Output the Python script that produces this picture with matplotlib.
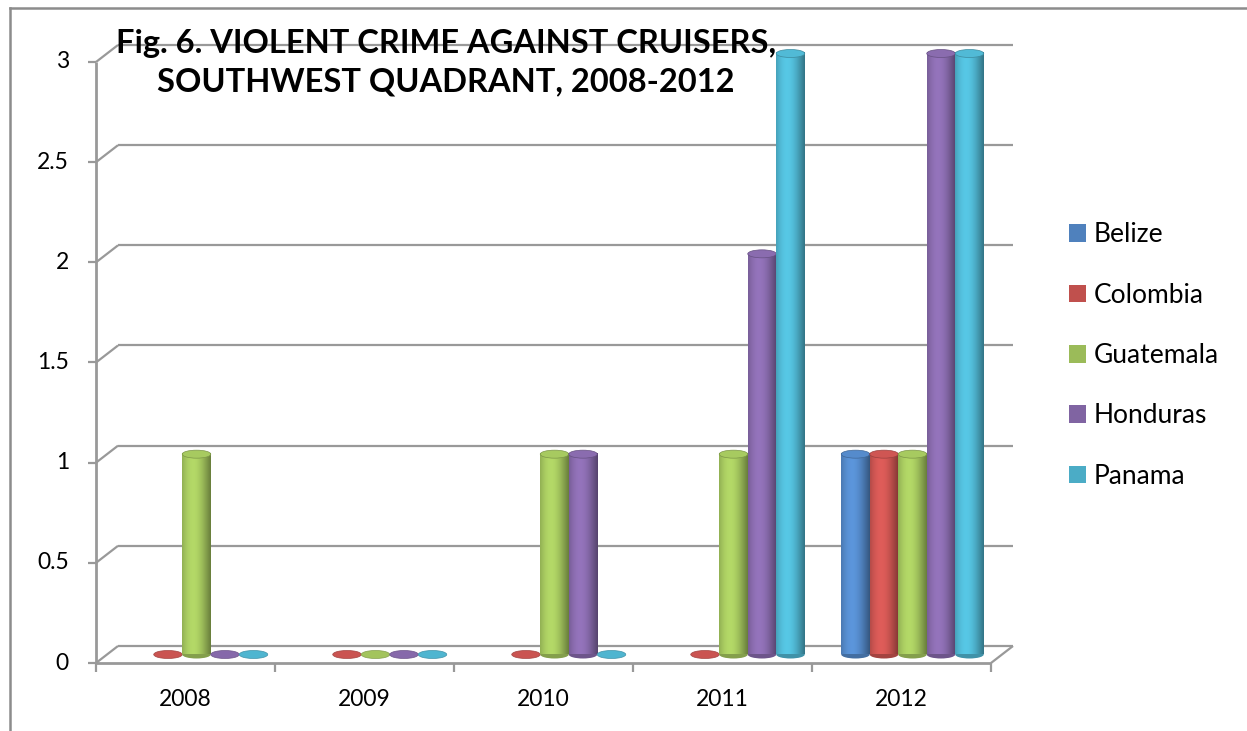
import matplotlib

matplotlib.use("Agg")
import matplotlib.pyplot as plt
import numpy as np
from matplotlib.patches import Ellipse, Patch

years = ["2008", "2009", "2010", "2011", "2012"]
countries = ["Belize", "Colombia", "Guatemala", "Honduras", "Panama"]
belize = [np.nan, np.nan, np.nan, np.nan, 1]
colombia = [0, 0, 0, 0, 1]
guatemala = [1, 0, 1, 1, 1]
honduras = [0, 0, 1, 2, 3]
panama = [0, 0, 0, 3, 3]
y_ticks = [0, 0.5, 1, 1.5, 2, 2.5, 3]
y_tick_labels = ["0", "0.5", "1", "1.5", "2", "2.5", "3"]
title = "Fig. 6. VIOLENT CRIME AGAINST CRUISERS,\nSOUTHWEST QUADRANT, 2008-2012"

series = [belize, colombia, guatemala, honduras, panama]
colors = ["#4F81BD", "#C0504D", "#9BBB59", "#8064A2", "#4BACC6"]
grid_color = "#999999"
font = "Lato"

W, H, DPI = 1247, 731, 100
# front plot rectangle in pixels and the depth offset of the back wall
FRONT_L, FRONT_R, FRONT_T, FRONT_B = 96, 991, 62, 663
DEPTH_PX = (22, 17)

fig = plt.figure(figsize=(W / DPI, H / DPI), dpi=DPI)
ax = fig.add_axes([
    FRONT_L / W,
    (H - FRONT_B) / H,
    (FRONT_R - FRONT_L) / W,
    (FRONT_B - FRONT_T) / H,
])
n_cat = len(years)
y_max = y_ticks[-1]
ax.set_xlim(0, n_cat)
ax.set_ylim(0, y_max)
ax.set_axis_off()

px_x = (FRONT_R - FRONT_L) / n_cat
px_y = (FRONT_B - FRONT_T) / y_max
DX = DEPTH_PX[0] / px_x
DY = DEPTH_PX[1] / px_y


def line(xs, ys, **kw):
    style = dict(color=grid_color, lw=1.6, clip_on=False, solid_capstyle="butt", zorder=1)
    style.update(kw)
    ax.plot(xs, ys, **style)


# back wall gridlines with diagonals to the front axis
for v in y_ticks:
    line([DX, n_cat + DX], [v + DY, v + DY])
    line([0, DX], [v, v + DY])
    line([-8 / px_x, 0], [v, v])
# floor and front axes
line([0, n_cat], [0, 0], lw=2)
line([n_cat, n_cat + DX], [0, DY])
line([0, 0], [0, y_max], lw=2)
for i in range(n_cat + 1):
    line([i, i], [0, -9 / px_y])

for v, lab in zip(y_ticks, y_tick_labels):
    ax.text(-27 / px_x, v, lab, ha="right", va="center", fontsize=16.5,
            family=font, clip_on=False)
for i, yr in enumerate(years):
    ax.text(i + 0.5, -37 / px_y, yr, ha="center", va="center", fontsize=16.5,
            family=font, clip_on=False)

# cylinders
bar_w = 28.5 / px_x
cap_h = 8 / px_y
t = np.linspace(0, 1, 64)
shade = 0.78 + 0.38 * np.cos((t - 0.38) * np.pi * 0.95)


def shaded(color):
    rgb = np.array(matplotlib.colors.to_rgb(color))
    grad = np.clip(rgb[None, :] * shade[:, None], 0, 1)
    return grad[None, :, :]


base_y = DY / 2
for j, (vals, col) in enumerate(zip(series, colors)):
    rgb = np.array(matplotlib.colors.to_rgb(col))
    for i, v in enumerate(vals):
        if np.isnan(v):
            continue
        cx = i + 0.5 + DX / 2 + (j - 2) * bar_w
        x0, x1 = cx - bar_w / 2, cx + bar_w / 2
        if v == 0:
            ax.add_patch(Ellipse((cx, base_y), bar_w, cap_h, facecolor=np.clip(rgb * 1.05, 0, 1),
                                 edgecolor=rgb * 0.85, lw=0.5, clip_on=False, zorder=3 + j))
            continue
        top = base_y + v
        ax.add_patch(Ellipse((cx, base_y), bar_w, cap_h, facecolor=rgb * 0.85,
                             lw=0, clip_on=False, zorder=3 + j))
        im = ax.imshow(shaded(col), extent=[x0, x1, base_y, top], aspect="auto",
                       interpolation="bilinear", zorder=3 + j)
        im.set_clip_on(False)
        ax.add_patch(Ellipse((cx, top), bar_w, cap_h, facecolor=np.clip(rgb * 1.08, 0, 1),
                             edgecolor=rgb * 0.8, lw=0.5, clip_on=False, zorder=3 + j))
ax.set_xlim(0, n_cat)
ax.set_ylim(0, y_max)

fig.text(446 / W, 1 - 62.5 / H, title, ha="center", va="center", fontsize=23.5,
         fontweight="bold", family=font, linespacing=1.38, zorder=10)

handles = [Patch(facecolor=c, edgecolor="none") for c in colors]
fig.legend(handles, countries, loc="center left", bbox_to_anchor=(1069 / W, 1 - 355.5 / H),
           frameon=False, prop={"family": font, "size": 19}, handlelength=0.65,
           handleheight=0.65, handletextpad=0.3, labelspacing=1.34,
           borderpad=0, borderaxespad=0)

# chart border: top and left edges only
fig.add_artist(plt.Line2D([10 / W, 1], [1 - 8 / H, 1 - 8 / H], color="#8c8c8c", lw=1.8))
fig.add_artist(plt.Line2D([10 / W, 10 / W], [0, 1 - 8 / H], color="#8c8c8c", lw=1.8))

fig.savefig("out.png", dpi=DPI)
